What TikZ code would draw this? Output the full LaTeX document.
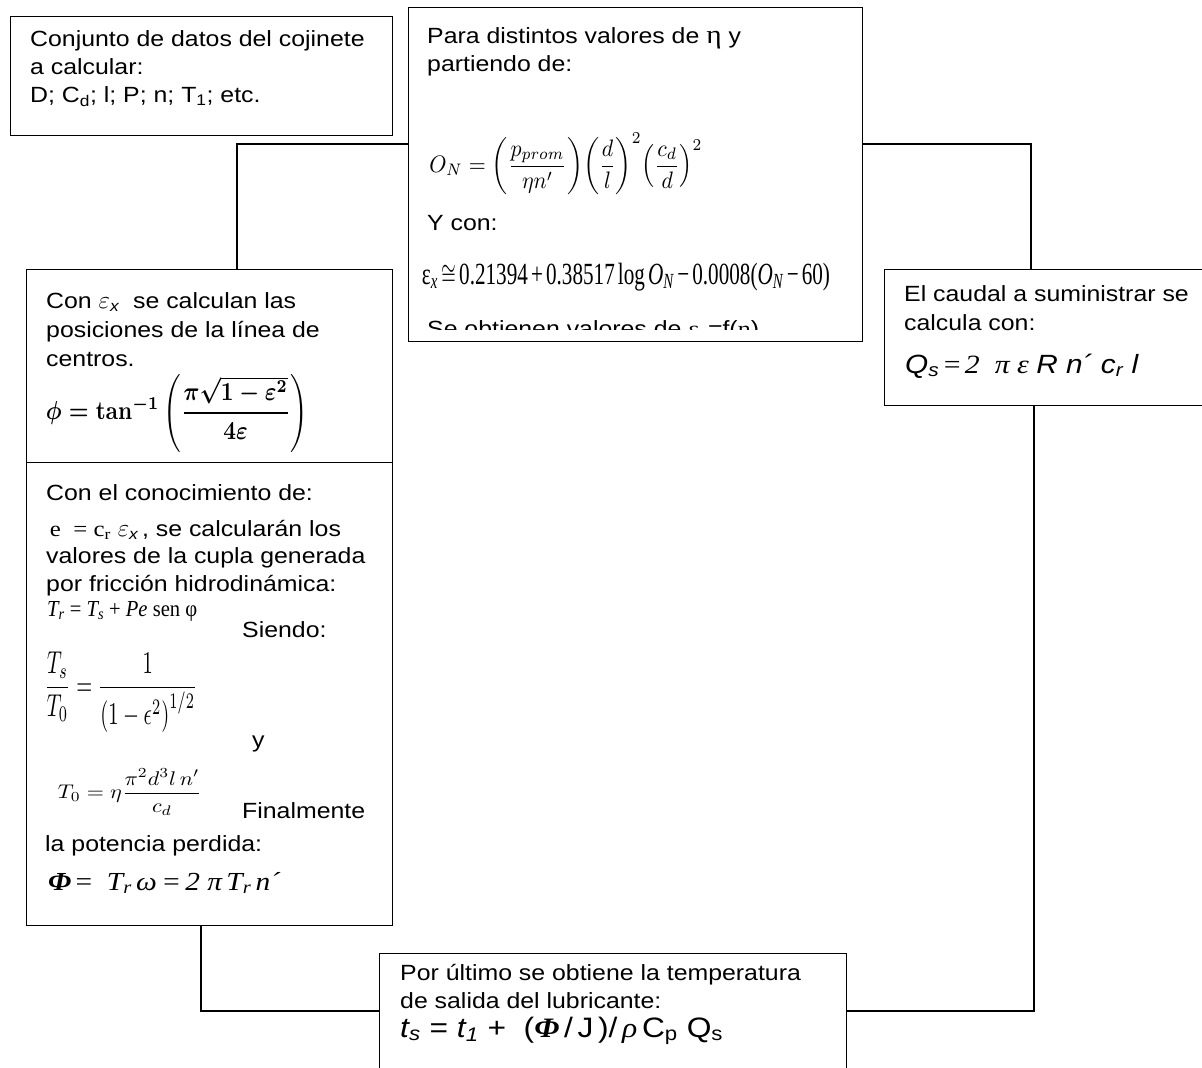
\documentclass[tikz,border=0pt]{standalone}
\usepackage{amsmath}
\usepackage{graphicx}
\usepackage[no-math]{fontspec}
\setmainfont[FakeStretch=1.13]{Liberation Sans}
\newfontfamily\tms[FakeStretch=1.13]{Liberation Serif}
\tikzset{
  box/.style={draw, line width=1.4pt, anchor=north west, inner sep=0pt},
  conn/.style={draw, line width=1.4pt},
  txt/.style={anchor=base west, inner sep=0pt, font=\fontsize{22}{28}\selectfont},
  frm/.style={anchor=center, inner sep=0pt},
  frb/.style={anchor=base west, inner sep=0pt, font=\fontsize{22}{28}\selectfont},
}
\begin{document}
\begin{tikzpicture}[x=1pt,y=-1pt]
\fill[white] (0,0) rectangle (1202,1068);
\useasboundingbox (0,0) rectangle (1202,1068);

% boxes
\node[box, minimum width=382pt, minimum height=119pt] (b1) at (10,16) {};
\node[box, minimum width=454pt, minimum height=334pt] (b2) at (408,7) {};
\node[box, minimum width=366pt, minimum height=193pt] (b3a) at (26,269) {};
\node[box, minimum width=366pt, minimum height=463pt] (b3b) at (26,462) {};
\node[box, minimum width=340pt, minimum height=136pt] (b4) at (884,269) {};
\node[box, minimum width=467pt, minimum height=140pt] (b5) at (379,953) {};

% connectors
\coordinate (k1) at (237,144);
\coordinate (k2) at (1031,144);
\coordinate (k3) at (1034,1011);
\coordinate (k4) at (201,1011);
\draw[conn] (k1 -| b2.west) -- (k1) -- (k1 |- b3a.north);
\draw[conn] (k2 -| b2.east) -- (k2) -- (k2 |- b4.north);
\draw[conn] (k3 |- b4.south) -- (k3) -- (k3 -| b5.east);
\draw[conn] (k4 |- b3b.south) -- (k4) -- (k4 -| b5.west);

% box 1
\node[txt] (t11) at (30,46) {Conjunto de datos del cojinete};
\node[txt] (t12) at (30,74) {a calcular:};
\node[txt] (t13) at (30,102) {D; C\textsubscript{d}; l; P; n; T\textsubscript{1}; etc.};

% box 2
\node[txt] (t21) at (427,43) {Para distintos valores de {\tms\fontsize{26}{28}\selectfont η} y};
\node[txt] (t22) at (427,71) {partiendo de:};
\node[frm] (f21) at (566,164) {\resizebox*{273pt}{62pt}{$\displaystyle O_N=\left(\frac{p_{prom}}{\eta n'}\right)\!\left(\frac{d}{l}\right)^{2}\!\left(\frac{c_d}{d}\right)^{2}$}};
\node[txt] (t23) at (427,230) {Y con:};
\node[frm] (f22) at (626,277) {\resizebox*{408pt}{28pt}{\tms ε\textsubscript{\itshape x}\,$\cong$\,0.21394\,+\,0.38517\,log\,{\itshape O\textsubscript{N}}\,−\,0.0008({\itshape O\textsubscript{N}}\,−\,60)}};
\begin{scope}
\clip (409,300) rectangle (861,329);
\node[txt] (t24) at (427,336) {Se obtienen valores de {\tms ε}\textsubscript{x}=f({\tms η})};
\end{scope}

% box 3a
\node[txt] (t31) at (46,308) {Con {\fontsize{28}{28}\selectfont$\varepsilon$}\textsubscript{\itshape x}\ \ se calculan las};
\node[txt] (t32) at (46,337) {posiciones de la línea de};
\node[txt] (t33) at (46,366) {centros.};
\node[frm] (f31) at (177,413) {\resizebox*{262pt}{78pt}{\boldmath$\phi=\tan^{-1}\left(\dfrac{\pi\sqrt{1-\varepsilon^{2}}}{4\varepsilon}\right)$}};

% box 3b
\node[txt] (t41) at (46,500) {Con el conocimiento de:};
\node[txt] (t42) at (46,536) {\,{\tms e\ \ = c\textsubscript{r}} {\fontsize{28}{28}\selectfont$\varepsilon$}\textsubscript{\itshape x}\,, se calcularán los};
\node[txt] (t43) at (46,563) {valores de la cupla generada};
\node[txt] (t44) at (46,591) {por fricción hidrodinámica:};
\node[frb] (f41) at (47,616) {\resizebox{150pt}{15pt}{\tms\itshape T\textsubscript{r}\upshape\ =\ \itshape T\textsubscript{s}\upshape\ +\ \itshape Pe\upshape\ sen\ φ}};
\node[txt] (t45) at (242,637) {Siendo:};
\node[frm] (f42) at (121,692) {\resizebox*{153pt}{80pt}{$\dfrac{T_s}{T_0}=\dfrac{1}{\left(1-\epsilon^{2}\right)^{1/2}}$}};
\node[txt] (t46) at (252,747) {y};
\node[frm] (f43) at (130,792) {\resizebox*{144pt}{46pt}{$T_0=\eta\dfrac{\pi^{2}d^{3}l\,n'}{c_d}$}};
\node[txt] (t47) at (242,818) {Finalmente};
\node[txt] (t48) at (45,851) {la potencia perdida:};
\node[frb] (f44) at (48,890) {\resizebox{232pt}{!}{{\tms\bfseries\itshape Φ}{\tms\,=\ \ \itshape T\textsubscript{r}\,ω\,=\,2\ π\,T\textsubscript{r}\,n´}}};

% box 4
\node[txt] (t51) at (904,301) {El caudal a suministrar se};
\node[txt] (t52) at (904,330) {calcula con:};
\node[frb] (f51) at (905,373) {\resizebox{233pt}{!}{{\itshape Q\textsubscript{s}}{\tms\,=\,\itshape 2\ \ π\ ε\ }{\itshape R\ n´\ c\textsubscript{r}\ l}}};

% box 5
\node[txt] (t61) at (400,980) {Por último se obtiene la temperatura};
\node[txt] (t62) at (400,1008) {de salida del lubricante:};
\node[frb] (f61) at (400,1037) {\resizebox{323pt}{!}{{\itshape t\textsubscript{s}}\ =\ {\itshape t\textsubscript{1}}\ +\ \ ({\tms\bfseries\itshape Φ}\,/\,J\,)/\,{\tms\itshape ρ}\,C\textsubscript{p}\ Q\textsubscript{s}}};
\end{tikzpicture}
\end{document}
